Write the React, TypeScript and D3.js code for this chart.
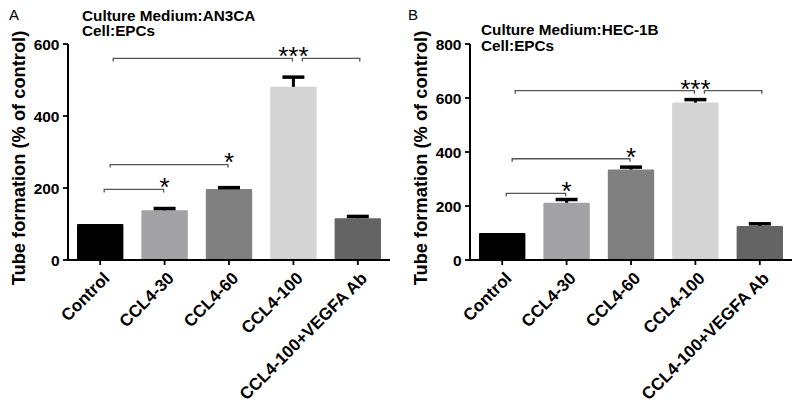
import React from 'react';
import * as d3 from 'd3';

const categories = ['Control', 'CCL4-30', 'CCL4-60', 'CCL4-100', 'CCL4-100+VEGFA Ab'];
const meansA = [100, 138, 197, 481, 116];
const errorsA = [0, 5, 4, 27, 5];
const meansB = [100, 212, 335, 583, 126];
const errorsB = [0, 12, 9, 11, 8];
const ticksA = [0, 200, 400, 600];
const ticksB = [0, 200, 400, 600, 800];
const barColors = ['#000000', '#a2a2a6', '#808080', '#d4d4d4', '#646464'];
const titleA = ['Culture Medium:AN3CA', 'Cell:EPCs'];
const titleB = ['Culture Medium:HEC-1B', 'Cell:EPCs'];
// brackets: from category index, to category index, level (data units), label
const bracketsA = [
  { from: 0, to: 1, level: 196, label: '*' },
  { from: 0, to: 2, level: 265, label: '*' },
  { from: 0, to: 3, level: 560, label: '***' },
  { from: 3, to: 4, level: 560, label: '' },
];
const bracketsB = [
  { from: 0, to: 1, level: 247, label: '*' },
  { from: 0, to: 2, level: 375, label: '*' },
  { from: 0, to: 3, level: 627, label: '***' },
  { from: 3, to: 4, level: 627, label: '' },
];

const FONT = '"Liberation Sans", Arial, sans-serif';

type Bracket = { from: number; to: number; level: number; label: string };

function Panel(props: {
  letter: string;
  letterX: number;
  title: string[];
  titleX: number;
  titleY: number;
  x0: number;
  x1: number;
  yMax: number;
  ticks: number[];
  means: number[];
  errors: number[];
  brackets: Bracket[];
}) {
  const { letter, letterX, title, titleX, titleY, x0, x1, yMax, ticks, means, errors, brackets } = props;
  const y = d3.scaleLinear().domain([0, yMax]).range([260, 44]);
  const x = d3.scaleBand<string>().domain(categories).range([x0, x1]).paddingInner(0.28).paddingOuter(0.14);
  const bw = x.bandwidth();
  const cx = (i: number) => (x(categories[i]) as number) + bw / 2;
  const startOffsets = [4, 10, 13];
  const starSize = 26;
  let mainIdx = 0;
  return (
    <g>
      <text x={letterX} y={20} fontFamily={FONT} fontSize={15}>{letter}</text>
      {title.map((t, i) => (
        <text key={i} x={titleX} y={titleY + i * 15.5} fontFamily={FONT} fontSize={15.3} fontWeight="bold">{t}</text>
      ))}
      <text
        transform={`translate(${x0 - 49},158) rotate(-90)`}
        textAnchor="middle"
        dy="0.35em"
        fontFamily={FONT}
        fontSize={18.3}
        fontWeight="bold"
      >
        Tube formation (% of control)
      </text>
      {/* bars */}
      {means.map((m, i) => (
        <rect key={i} x={x(categories[i])} y={y(m)} width={bw} height={y(0) - y(m)} fill={barColors[i]} rx={1} />
      ))}
      {/* error bars */}
      {means.map((m, i) =>
        errors[i] > 0 ? (
          <g key={'e' + i}>
            <line x1={cx(i)} x2={cx(i)} y1={y(m)} y2={y(m + errors[i])} stroke="#000" strokeWidth={3} />
            <line x1={cx(i) - 11} x2={cx(i) + 11} y1={y(m + errors[i])} y2={y(m + errors[i])} stroke="#000" strokeWidth={3.5} />
          </g>
        ) : null
      )}
      {/* brackets */}
      {brackets.map((b, i) => {
        const by = y(b.level);
        let xa: number, xb: number;
        if (b.from === 0) {
          xa = cx(b.from) + startOffsets[mainIdx++];
          xb = cx(b.to) - 1;
        } else {
          xa = cx(b.from) + 9;
          xb = cx(b.to) + 2;
        }
        return (
          <g key={'b' + i}>
            <path d={`M${xa},${by + 3}V${by}H${xb}V${by + 3}`} fill="none" stroke="#555" strokeWidth={1.3} />
            {b.label ? (
              <text x={cx(b.to)} y={by - 8 + 0.57 * starSize} textAnchor="middle" fontFamily={FONT} fontSize={starSize}>
                {b.label}
              </text>
            ) : null}
          </g>
        );
      })}
      {/* y axis */}
      <line x1={x0} x2={x0} y1={y(0) + 1} y2={y(yMax)} stroke="#000" strokeWidth={2} />
      {ticks.map((t) => (
        <g key={'t' + t}>
          <line x1={x0 - 5} x2={x0} y1={y(t)} y2={y(t)} stroke="#000" strokeWidth={1.8} />
          <text x={x0 - 8.5} y={y(t)} dy="0.36em" textAnchor="end" fontFamily={FONT} fontSize={15.5} fontWeight="bold">
            {t}
          </text>
        </g>
      ))}
      {/* x axis */}
      <line x1={x0 - 1} x2={x1} y1={y(0)} y2={y(0)} stroke="#000" strokeWidth={2} />
      {categories.map((c, i) => (
        <g key={'x' + i}>
          <line x1={cx(i)} x2={cx(i)} y1={y(0)} y2={y(0) + 5} stroke="#000" strokeWidth={1.8} />
          <text
            transform={`translate(${cx(i) + 2},271) rotate(-45)`}
            dy="0.7em"
            textAnchor="end"
            fontFamily={FONT}
            fontSize={17}
            fontWeight="bold"
          >
            {c}
          </text>
        </g>
      ))}
    </g>
  );
}

export default function App() {
  return (
    <svg width={800} height={405} style={{ position: 'absolute', left: 0, top: 0, background: '#fff' }}>
      <rect width={800} height={405} fill="#fff" />
      <Panel
        letter="A"
        letterX={9}
        title={titleA}
        titleX={82}
        titleY={20.5}
        x0={68}
        x1={390}
        yMax={600}
        ticks={ticksA}
        means={meansA}
        errors={errorsA}
        brackets={bracketsA}
      />
      <Panel
        letter="B"
        letterX={408}
        title={titleB}
        titleX={481}
        titleY={35}
        x0={470}
        x1={792}
        yMax={800}
        ticks={ticksB}
        means={meansB}
        errors={errorsB}
        brackets={bracketsB}
      />
    </svg>
  );
}
